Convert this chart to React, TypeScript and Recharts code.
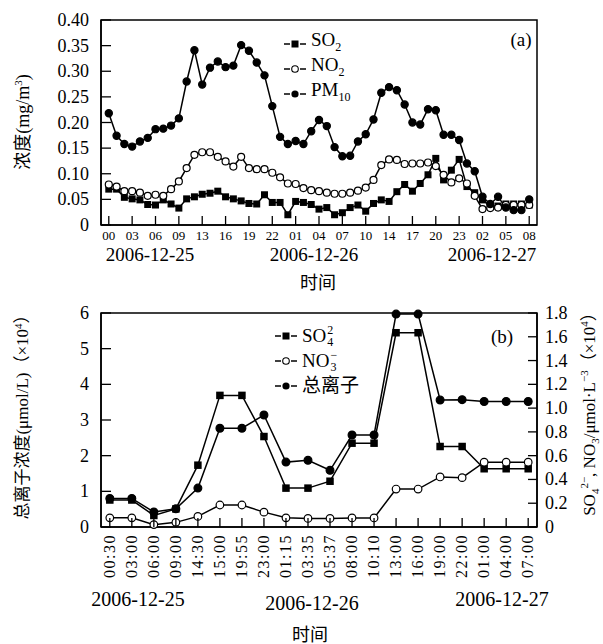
import React from "react"
import { LineChart, ComposedChart, Line, XAxis, YAxis, Legend, ReferenceArea } from "recharts"

const FONT = "'Liberation Serif', 'Times New Roman', 'Noto Sans CJK SC', serif"

// (a) hourly concentrations, mg/m3
const hourTicks = ["00", "03", "06", "09", "13", "16", "19", "22", "01", "04", "07", "10", "14", "17", "20", "23", "02", "05", "08"]
const so2 = [
  0.07, 0.07, 0.054, 0.051, 0.049, 0.04, 0.039, 0.049, 0.041, 0.033,
  0.051, 0.055, 0.06, 0.062, 0.066, 0.055, 0.051, 0.047, 0.042, 0.041,
  0.059, 0.044, 0.044, 0.02, 0.046, 0.044, 0.04, 0.031, 0.034, 0.02,
  0.024, 0.034, 0.039, 0.027, 0.042, 0.049, 0.046, 0.065, 0.079, 0.066,
  0.081, 0.098, 0.13, 0.088, 0.107, 0.128, 0.075, 0.063, 0.049, 0.037,
  0.037, 0.041, 0.041, 0.041, 0.039,
]
const no2 = [
  0.079, 0.075, 0.066, 0.066, 0.063, 0.057, 0.059, 0.057, 0.07, 0.085,
  0.111, 0.137, 0.142, 0.142, 0.133, 0.124, 0.114, 0.133, 0.111, 0.109,
  0.109, 0.102, 0.093, 0.081, 0.08, 0.072, 0.068, 0.066, 0.063, 0.061,
  0.061, 0.063, 0.067, 0.073, 0.088, 0.117, 0.128, 0.127, 0.119, 0.12,
  0.12, 0.122, 0.115, 0.098, 0.083, 0.091, 0.081, 0.057, 0.031, 0.033,
  0.034, 0.039, 0.039, 0.039, 0.039,
]
const pm10 = [
  0.218, 0.174, 0.158, 0.153, 0.163, 0.17, 0.187, 0.188, 0.194, 0.208,
  0.28, 0.341, 0.274, 0.307, 0.319, 0.308, 0.311, 0.351, 0.34, 0.317,
  0.292, 0.232, 0.172, 0.158, 0.164, 0.158, 0.183, 0.205, 0.193, 0.152,
  0.134, 0.135, 0.163, 0.177, 0.206, 0.258, 0.269, 0.263, 0.235, 0.2,
  0.196, 0.226, 0.224, 0.176, 0.176, 0.166, 0.12, 0.105, 0.055, 0.041,
  0.055, 0.034, 0.029, 0.029, 0.05,
]
const concTicks = [0, 0.05, 0.1, 0.15, 0.2, 0.25, 0.3, 0.35, 0.4]

// (b) ions, x10^4
const sampleTimes = ["00:30", "03:00", "06:00", "09:00", "14:30", "15:00", "19:55", "23:00", "01:15", "03:35", "05:37", "08:00", "10:10", "13:00", "16:00", "19:00", "22:00", "01:00", "04:00", "07:00"]
const so4 = [0.227, 0.227, 0.097, 0.152, 0.52, 1.107, 1.107, 0.761, 0.327, 0.327, 0.385, 0.705, 0.705, 1.634, 1.634, 0.677, 0.677, 0.49, 0.49, 0.49]
const no3 = [0.077, 0.077, 0.02, 0.039, 0.089, 0.185, 0.185, 0.125, 0.077, 0.072, 0.072, 0.076, 0.076, 0.319, 0.319, 0.421, 0.415, 0.545, 0.545, 0.545]
const totalIon = [0.8, 0.8, 0.42, 0.51, 1.09, 2.77, 2.77, 3.14, 1.82, 1.87, 1.59, 2.58, 2.58, 5.97, 5.97, 3.56, 3.57, 3.52, 3.52, 3.52]
const ionTicks = [0, 1, 2, 3, 4, 5, 6]
const anionTicks = [0, 0.2, 0.4, 0.6, 0.8, 1.0, 1.2, 1.4, 1.6, 1.8]

const legendOrder = ["so2", "no2", "pm10", "so4", "no3", "total"]

const hourlyData = so2.map((v, i) => ({ i, so2: v, no2: no2[i], pm10: pm10[i] }))
const ionData = sampleTimes.map((t, i) => ({ i, so4: so4[i], no3: no3[i], total: totalIon[i] }))

const square = (size: number) => (props: any) => {
  const { cx, cy, index } = props
  if (cx == null || cy == null) return <g key={index} />
  return <rect key={index} x={cx - size / 2} y={cy - size / 2} width={size} height={size} fill="#000" />
}
const circle = (r: number, fill: string) => (props: any) => {
  const { cx, cy, index } = props
  if (cx == null || cy == null) return <g key={index} />
  return <circle key={index} cx={cx} cy={cy} r={r} fill={fill} stroke="#000" strokeWidth={1.2} />
}

const LeftTick = (fmt: (v: number) => string) => (props: any) => {
  const { x, y, payload } = props
  return (
    <g>
      <line x1={x} y1={y} x2={x + 10} y2={y} stroke="#000" strokeWidth={1.3} />
      <text x={x - 12} y={y} dy={6} textAnchor="end" fontSize={18} fontFamily={FONT} fill="#000">
        {fmt(payload.value)}
      </text>
    </g>
  )
}
const RightTick = (fmt: (v: number) => string) => (props: any) => {
  const { x, y, payload } = props
  return (
    <g>
      <line x1={x} y1={y} x2={x - 9} y2={y} stroke="#000" strokeWidth={1.3} />
      <text x={x + 8} y={y} dy={6} textAnchor="start" fontSize={18} fontFamily={FONT} fill="#000">
        {fmt(payload.value)}
      </text>
    </g>
  )
}
const HourTick = (props: any) => {
  const { x, y, payload } = props
  return (
    <g>
      <line x1={x} y1={y} x2={x} y2={y - 9} stroke="#000" strokeWidth={1.3} />
      <text x={x} y={y + 15} textAnchor="middle" fontSize={13} fontFamily={FONT} fill="#000">
        {hourTicks[payload.value / 3]}
      </text>
    </g>
  )
}
const TimeTick = (props: any) => {
  const { x, y, payload } = props
  const ty = y + 7
  return (
    <g>
      <line x1={x} y1={y} x2={x} y2={y - 9} stroke="#000" strokeWidth={1.3} />
      <text
        x={x}
        y={ty}
        dy={5}
        transform={`rotate(-90, ${x}, ${ty})`}
        textAnchor="end"
        fontSize={16}
        letterSpacing={1.5}
        fontFamily={FONT}
        fill="#000"
      >
        {sampleTimes[payload.value]}
      </text>
    </g>
  )
}

const stack = (top: string, bottom: string) => (
  <span style={{ position: "relative", display: "inline-block", width: 9, height: 19, verticalAlign: "top" }}>
    <span style={{ position: "absolute", left: 1, top: -2, fontSize: 12, lineHeight: 1 }}>{top}</span>
    <span style={{ position: "absolute", left: 1, top: 10, fontSize: 12, lineHeight: 1 }}>{bottom}</span>
  </span>
)

const legendLabels: Record<string, React.ReactNode> = {
  so2: <>SO<sub style={{ fontSize: 12 }}>2</sub></>,
  no2: <>NO<sub style={{ fontSize: 12 }}>2</sub></>,
  pm10: <>PM<sub style={{ fontSize: 12 }}>10</sub></>,
  so4: <>SO{stack("2", "4")}</>,
  no3: <>NO{stack("\u2212", "3")}</>,
  total: <>总离子</>,
}
const legendMarks: Record<string, string> = {
  so2: "square", no2: "open", pm10: "dot", so4: "square", no3: "open", total: "dot",
}

const renderLegend = (props: any) => {
  const items = [...(props.payload || [])].sort(
    (a: any, b: any) => legendOrder.indexOf(a.dataKey) - legendOrder.indexOf(b.dataKey),
  )
  return (
    <div style={{ fontFamily: FONT, fontSize: 19, color: "#000" }}>
      {items.map((entry: any) => {
        const k = entry.dataKey as string
        const m = legendMarks[k]
        return (
          <div key={k} style={{ display: "flex", alignItems: "center", height: 25 }}>
            <svg width={22} height={12}>
              <line x1={0} y1={6} x2={6} y2={6} stroke="#000" strokeWidth={1.5} />
              <line x1={16} y1={6} x2={22} y2={6} stroke="#000" strokeWidth={1.5} />
              {m === "square" && <rect x={7.5} y={2.5} width={7} height={7} fill="#000" />}
              {m === "open" && <circle cx={11} cy={6} r={3.3} fill="#fff" stroke="#000" strokeWidth={1.1} />}
              {m === "dot" && <circle cx={11} cy={6} r={3.6} fill="#000" />}
            </svg>
            <span style={{ marginLeft: 5, whiteSpace: "nowrap", lineHeight: "19px" }}>{legendLabels[k]}</span>
          </div>
        )
      })}
    </div>
  )
}

const text = (left: number, top: number, content: React.ReactNode, size = 20, rotate = 0) => (
  <div
    style={{
      position: "absolute",
      left,
      top,
      transform: `translate(-50%, -50%) rotate(${rotate}deg)`,
      fontFamily: FONT,
      fontSize: size,
      whiteSpace: "nowrap",
      color: "#000",
      lineHeight: 1,
    }}
  >
    {content}
  </div>
)

const fmt2 = (v: number) => (v === 0 ? "0" : v.toFixed(2))
const fmt1 = (v: number) => (v === 0 ? "0" : v.toFixed(1))
const fmt0 = (v: number) => String(v)

export default function App() {
  return (
    <div style={{ position: "absolute", left: 0, top: 0, width: 603, height: 644, background: "#fff" }}>
      <div style={{ position: "absolute", left: 0, top: 0 }}>
        <LineChart width={603} height={245} data={hourlyData} margin={{ top: 20, right: 66, bottom: 0, left: 0 }}>
          <XAxis
            dataKey="i"
            type="number"
            domain={[-1, 55]}
            ticks={hourTicks.map((_, k) => k * 3)}
            tick={HourTick}
            tickLine={false}
            tickSize={0}
            tickMargin={0}
            height={20}
            axisLine={{ stroke: "#000", strokeWidth: 1.5 }}
          />
          <YAxis
            type="number"
            domain={[0, 0.4]}
            ticks={concTicks}
            tick={LeftTick(fmt2)}
            tickLine={false}
            tickSize={0}
            tickMargin={0}
            width={101}
            axisLine={{ stroke: "#000", strokeWidth: 1.5 }}
          />
          <ReferenceArea x1={-1} x2={55} y1={0} y2={0.4} fill="none" stroke="#000" strokeWidth={1.5} />
          <Line dataKey="so2" name="SO2" stroke="#000" strokeWidth={1.5} dot={square(7)} isAnimationActive={false} />
          <Line dataKey="no2" name="NO2" stroke="#000" strokeWidth={1.5} dot={circle(3.5, "#fff")} isAnimationActive={false} />
          <Line dataKey="pm10" name="PM10" stroke="#000" strokeWidth={1.5} dot={circle(3.6, "#000")} isAnimationActive={false} />
          <Legend
            layout="vertical"
            align="center"
            verticalAlign="middle"
            content={renderLegend}
            wrapperStyle={{ left: 284, top: 31 }}
          />
        </LineChart>
      </div>

      <div style={{ position: "absolute", left: 0, top: 290 }}>
        <ComposedChart width={603} height={354} data={ionData} margin={{ top: 23, right: 0, bottom: 57, left: 0 }}>
          <XAxis
            dataKey="i"
            type="number"
            domain={[-0.4, 19.4]}
            ticks={sampleTimes.map((_, k) => k)}
            tick={TimeTick}
            tickLine={false}
            tickSize={0}
            tickMargin={0}
            height={60}
            axisLine={{ stroke: "#000", strokeWidth: 1.5 }}
          />
          <YAxis
            yAxisId="left"
            type="number"
            domain={[0, 6]}
            ticks={ionTicks}
            tick={LeftTick(fmt0)}
            tickLine={false}
            tickSize={0}
            tickMargin={0}
            width={101}
            axisLine={{ stroke: "#000", strokeWidth: 1.5 }}
          />
          <YAxis
            yAxisId="right"
            orientation="right"
            type="number"
            domain={[0, 1.8]}
            ticks={anionTicks}
            tick={RightTick(fmt1)}
            tickLine={false}
            tickSize={0}
            tickMargin={0}
            width={66}
            axisLine={{ stroke: "#000", strokeWidth: 1.5 }}
          />
          <ReferenceArea yAxisId="left" x1={-0.4} x2={19.4} y1={0} y2={6} fill="none" stroke="#000" strokeWidth={1.5} />
          <Line yAxisId="right" dataKey="so4" name="SO4" stroke="#000" strokeWidth={1.5} dot={square(7.5)} isAnimationActive={false} />
          <Line yAxisId="right" dataKey="no3" name="NO3" stroke="#000" strokeWidth={1.5} dot={circle(3.8, "#fff")} isAnimationActive={false} />
          <Line yAxisId="left" dataKey="total" name="总离子" stroke="#000" strokeWidth={1.5} dot={circle(3.9, "#000")} isAnimationActive={false} />
          <Legend
            layout="vertical"
            align="center"
            verticalAlign="middle"
            content={renderLegend}
            wrapperStyle={{ left: 275, top: 33 }}
          />
        </ComposedChart>
      </div>

      {text(521, 39, "(a)", 19)}
      {text(502, 336, "(b)", 19)}

      {text(22, 122, <>浓度(mg/m<sup style={{ fontSize: 11 }}>3</sup>)</>, 18, -90)}
      {text(150, 254, "2006-12-25", 19)}
      {text(314, 254, "2006-12-26", 19)}
      {text(492, 254, "2006-12-27", 19)}
      {text(318, 283, "时间", 18)}

      {text(22, 413, <>总离子浓度(μmol/L)（×10<sup style={{ fontSize: 11 }}>4</sup>）</>, 17, -90)}
      {text(
        590,
        410,
        <>
          SO<sub style={{ fontSize: 11 }}>4</sub><sup style={{ fontSize: 11 }}>2−</sup>, NO<sub style={{ fontSize: 11 }}>3</sub>/μmol·L<sup style={{ fontSize: 11 }}>−3</sup>（×10<sup style={{ fontSize: 11 }}>4</sup>）
        </>,
        17,
        -90,
      )}
      {text(138, 599, "2006-12-25")}
      {text(312, 603, "2006-12-26")}
      {text(502, 599, "2006-12-27")}
      {text(310, 635, "时间", 18)}
    </div>
  )
}
